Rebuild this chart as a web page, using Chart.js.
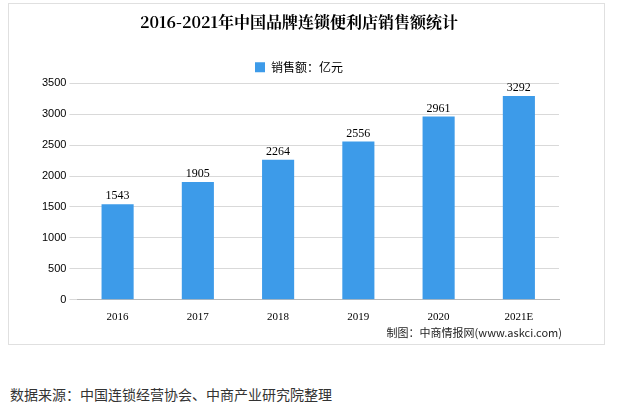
<!DOCTYPE html>
<html><head><meta charset="utf-8">
<script src="https://cdn.jsdelivr.net/npm/chart.js@4"></script>
<style>
body{margin:0;width:622px;height:409px;background:#fff;position:relative;font-family:"Noto Sans CJK SC",sans-serif;}
#box{position:absolute;left:8px;top:3px;width:597px;height:342px;border:1px solid #e0e0e0;box-sizing:border-box;}
#note{position:absolute;left:10px;top:384px;font-size:14px;color:#333;}
#src{position:absolute;right:60px;top:324px;font-size:11px;color:#222;}
</style></head><body>
<div id="box"><canvas id="c" width="595" height="340"></canvas></div>
<div id="src">制图：中商情报网(www.askci.com)</div>
<div id="note">数据来源：中国连锁经营协会、中商产业研究院整理</div>
<script>
const categories=["2016","2017","2018","2019","2020","2021E"];
const values=[1543,1905,2264,2556,2961,3292];
const seriesName="销售额：亿元";
const labelPlugin={id:'lbl',afterDatasetsDraw(ch){const ctx=ch.ctx;const m=ch.getDatasetMeta(0);ctx.save();ctx.font='12px "Liberation Serif"';ctx.fillStyle='#000';ctx.textAlign='center';
m.data.forEach((b,i)=>ctx.fillText(values[i],b.x,b.y-8));ctx.restore();}};
new Chart(document.getElementById('c'),{type:'bar',data:{labels:categories,datasets:[{label:seriesName,data:values,backgroundColor:'#3d9be9',barPercentage:0.4,categoryPercentage:1}]},
options:{responsive:false,animation:false,layout:{padding:{left:30,right:45,bottom:17}},
plugins:{title:{display:true,text:'2016-2021年中国品牌连锁便利店销售额统计',font:{size:16,weight:'bold',family:'"Noto Serif CJK SC","Noto Sans CJK SC"'},color:'#000',padding:{top:8,bottom:12}},
legend:{labels:{boxWidth:10,boxHeight:10,padding:18,font:{size:12,family:'"Noto Sans CJK SC"'},color:'#000'}},tooltip:{enabled:false}},
scales:{y:{min:0,max:3500,ticks:{stepSize:500,color:'#000',callback:v=>String(v),font:{size:11,family:'"Liberation Sans"'}},grid:{color:'#d9d9d9'},border:{display:false}},
x:{ticks:{color:'#000',font:{size:11,family:'"Liberation Serif"'}},grid:{display:false},border:{color:'#bbb'}}}},plugins:[labelPlugin]});
</script></body></html>
